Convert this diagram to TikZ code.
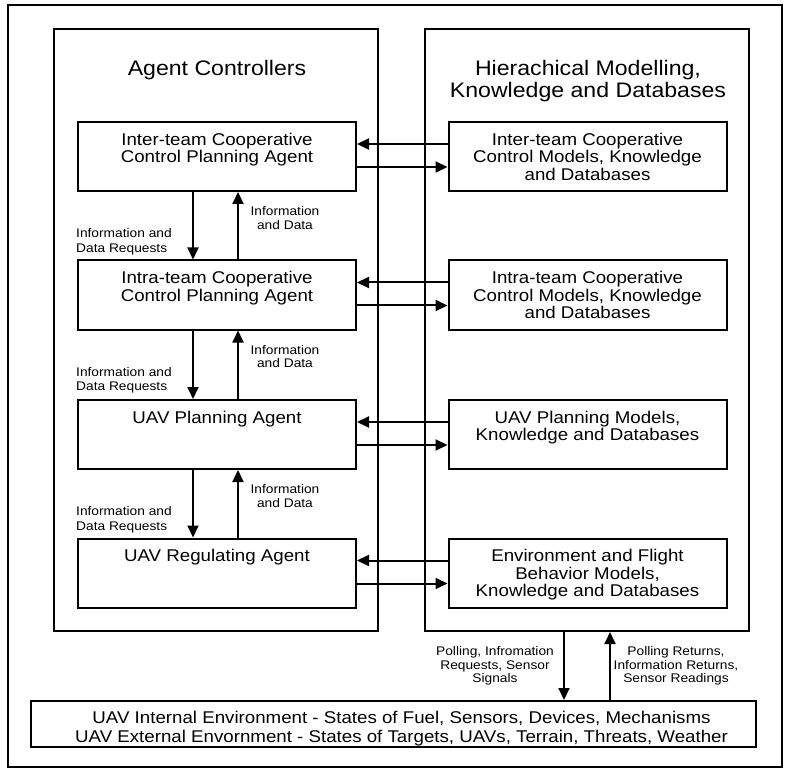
\documentclass[tikz,border=0pt]{standalone}
\usepackage{fontspec}
\setmainfont[FakeStretch=1.1]{Liberation Sans}
\usetikzlibrary{arrows.meta,calc}
\tikzset{
  panelbox/.style={draw, line width=2pt, minimum width=324pt, minimum height=602pt, inner sep=0pt},
  agentbox/.style={draw, line width=2pt, minimum width=278pt, minimum height=69pt, inner sep=0pt},
  boxtext/.style={anchor=north, inner sep=0pt, align=center, font=\fontsize{17}{17.5}\selectfont},
  titletext/.style={anchor=north, inner sep=0pt, align=center, font=\fontsize{21}{22}\selectfont},
  lablft/.style={anchor=north west, inner sep=0pt, align=left, font=\fontsize{12.5}{14.5}\selectfont},
  labrgt/.style={anchor=north, inner sep=0pt, align=center, font=\fontsize{12.5}{13.5}\selectfont},
  polltext/.style={anchor=north, inner sep=0pt, align=center, font=\fontsize{12.5}{13.5}\selectfont},
  envtext/.style={anchor=north, inner sep=0pt, align=center, font=\fontsize{17}{19}\selectfont},
  arr/.style={line width=2pt, -{Triangle[length=12pt,width=11pt]}}
}
\begin{document}
\begin{tikzpicture}[x=1pt,y=-1pt]
\useasboundingbox (0,0) rectangle (785,770);
\node[draw, line width=1.5pt, minimum width=774pt, minimum height=762pt, inner sep=0pt] (frame) at (395,386) {};

\node[panelbox] (LP) at (216,330) {};
\node[panelbox] (RP) at (587,330) {};
\node[titletext] (LT) at ($(LP.north)+(1,32)$) {Agent Controllers};
\node[titletext] (RT) at ($(RP.north)+(1,32)$) {Hierachical Modelling,\\Knowledge and Databases};

% agent boxes
\node[agentbox] (L1) at (217,156.5) {};
\node[agentbox] (L2) at (217,295) {};
\node[agentbox] (L3) at (217,434.5) {};
\node[agentbox] (L4) at (217,573) {};
\node[agentbox] (R1) at (587.5,156.5) {};
\node[agentbox] (R2) at (587.5,295) {};
\node[agentbox] (R3) at (587.5,434.5) {};
\node[agentbox] (R4) at (587.5,573) {};

\node[boxtext] (L1t) at ($(L1.north)+(0,11.5)$) {Inter-team Cooperative\\Control Planning Agent};
\node[boxtext] (L2t) at ($(L2.north)+(0,11.5)$) {Intra-team Cooperative\\Control Planning Agent};
\node[boxtext] (L3t) at ($(L3.north)+(0,11.5)$) {UAV Planning Agent};
\node[boxtext] (L4t) at ($(L4.north)+(0,11.5)$) {UAV Regulating Agent};
\node[boxtext] (R1t) at ($(R1.north)+(0,11.5)$) {Inter-team Cooperative\\Control Models, Knowledge\\and Databases};
\node[boxtext] (R2t) at ($(R2.north)+(0,11.5)$) {Intra-team Cooperative\\Control Models, Knowledge\\and Databases};
\node[boxtext] (R3t) at ($(R3.north)+(0,11.5)$) {UAV Planning Models,\\Knowledge and Databases};
\node[boxtext] (R4t) at ($(R4.north)+(0,11.5)$) {Environment and Flight\\Behavior Models,\\Knowledge and Databases};

% horizontal arrows
\foreach \i in {1,2,3,4}{
  \draw[arr] ($(R\i.north west)+(0,23)$) -- ($(L\i.north east)+(0,23)$);
  \draw[arr] ($(L\i.north east)+(0,46)$) -- ($(R\i.north west)+(0,46)$);
}

% vertical arrows and labels
\foreach \a/\b in {1/2,2/3,3/4}{
  \draw[arr] ($(L\a.south west)+(116,0)$) -- ($(L\b.north west)+(116,0)$);
  \draw[arr] ($(L\b.north west)+(161,0)$) -- ($(L\a.south west)+(161,0)$);
  \node[lablft] (Q\a) at ($(L\a.south west)+(-1,36.5)$) {Information and\\Data Requests};
  \node[labrgt] (D\a) at ($(L\a.south west)+(208,14.5)$) {Information\\and Data};
}

% bottom environment box
\node[draw, line width=2pt, minimum width=725pt, minimum height=46pt, inner sep=0pt] (B) at (393.5,724) {};
\node[envtext] (Bt) at ($(B.north)+(8,11)$) {UAV Internal Environment - States of Fuel, Sensors, Devices, Mechanisms\\UAV External Envornment - States of Targets, UAVs, Terrain, Threats, Weather};

\coordinate (dn) at ($(RP.south west)+(140,0)$);
\coordinate (up) at ($(RP.south west)+(186,0)$);
\draw[arr] (dn) -- (dn |- B.north);
\draw[arr] (up |- B.north) -- (up);
\node[polltext] (P1) at (495,646.5) {Polling, Infromation\\Requests, Sensor\\Signals};
\node[polltext] (P2) at (676,646.5) {Polling Returns,\\Information Returns,\\Sensor Readings};
\end{tikzpicture}
\end{document}
